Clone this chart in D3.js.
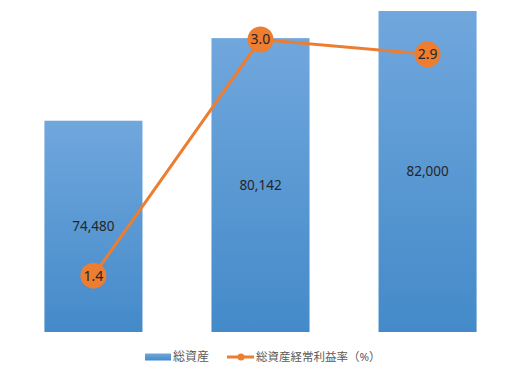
<!DOCTYPE html>
<html lang="ja">
<head>
<meta charset="UTF-8">
<title>総資産と総資産経常利益率</title>
<script src="https://d3js.org/d3.v7.min.js"></script>
<style>
  body { margin: 0; background: #fff; }
  text { font-family: "Noto Sans", "Noto Sans CJK JP", sans-serif; }
</style>
</head>
<body>
<svg width="522" height="372"></svg>
<script>
// データ
const categories = ["A", "B", "C"];
const assets = [74480, 80142, 82000];      // 総資産
const roa = [1.4, 3.0, 2.9];               // 総資産経常利益率（%）
const barName = "総資産";
const lineName = "総資産経常利益率（%）";

const width = 522, height = 372;
const plot = { left: 10, right: 511, top: 11, bottom: 332 };

const svg = d3.select("svg");

// グラデーション
const defs = svg.append("defs");
const grad = defs.append("linearGradient")
    .attr("id", "barGrad")
    .attr("x1", 0).attr("y1", 0).attr("x2", 0).attr("y2", 1);
grad.append("stop").attr("offset", "0%").attr("stop-color", "#70a7dd");
grad.append("stop").attr("offset", "100%").attr("stop-color", "#448ac9");

// スケール
const x = d3.scaleBand()
    .domain(categories)
    .range([plot.left, plot.right])
    .paddingInner(0.413)
    .paddingOuter(0.206);

const y = d3.scaleLinear()
    .domain([60000, 82000])
    .range([plot.bottom, plot.top]);

// 第2軸
const y2 = d3.scaleLinear()
    .domain([1.0, 3.2])
    .range([334.7, 10]);

// 棒
svg.append("g")
    .selectAll("rect")
    .data(assets)
    .join("rect")
    .attr("x", (d, i) => x(categories[i]))
    .attr("y", d => y(d))
    .attr("width", x.bandwidth())
    .attr("height", d => plot.bottom - y(d))
    .attr("fill", "url(#barGrad)");

// 棒ラベル
svg.append("g")
    .selectAll("text")
    .data(assets)
    .join("text")
    .attr("x", (d, i) => x(categories[i]) + x.bandwidth() / 2)
    .attr("y", d => (y(d) + plot.bottom) / 2)
    .attr("dy", "0.35em")
    .attr("text-anchor", "middle")
    .attr("font-size", 13.5)
    .attr("fill", "#262626")
    .text(d => d3.format(",")(d));

// 折れ線
const cx = (d, i) => x(categories[i]) + x.bandwidth() / 2;
const line = d3.line()
    .x((d, i) => cx(d, i))
    .y(d => y2(d));

svg.append("path")
    .datum(roa)
    .attr("d", line)
    .attr("fill", "none")
    .attr("stroke", "#ed7d31")
    .attr("stroke-width", 3);

const pts = svg.append("g")
    .selectAll("g")
    .data(roa)
    .join("g")
    .attr("transform", (d, i) => `translate(${cx(d, i)},${y2(d)})`);

pts.append("circle")
    .attr("r", 13)
    .attr("fill", "#ed7d31");

pts.append("text")
    .attr("text-anchor", "middle")
    .attr("dy", "0.35em")
    .attr("font-size", 14)
    .attr("fill", "#262626")
    .text(d => d.toFixed(1));

// 凡例
const legend = svg.append("g").attr("transform", "translate(0,357)");
legend.append("rect")
    .attr("x", 145).attr("y", -3.5)
    .attr("width", 26).attr("height", 7)
    .attr("fill", "url(#barGrad)");
legend.append("text")
    .attr("x", 173).attr("dy", "0.35em")
    .attr("font-size", 12)
    .attr("fill", "#595959")
    .text(barName);
legend.append("line")
    .attr("x1", 227).attr("x2", 254)
    .attr("stroke", "#ed7d31").attr("stroke-width", 3);
legend.append("circle")
    .attr("cx", 241).attr("r", 3.5)
    .attr("fill", "#ed7d31");
legend.append("text")
    .attr("x", 256).attr("dy", "0.35em")
    .attr("font-size", 11.5)
    .attr("fill", "#595959")
    .text(lineName);
</script>
</body>
</html>
